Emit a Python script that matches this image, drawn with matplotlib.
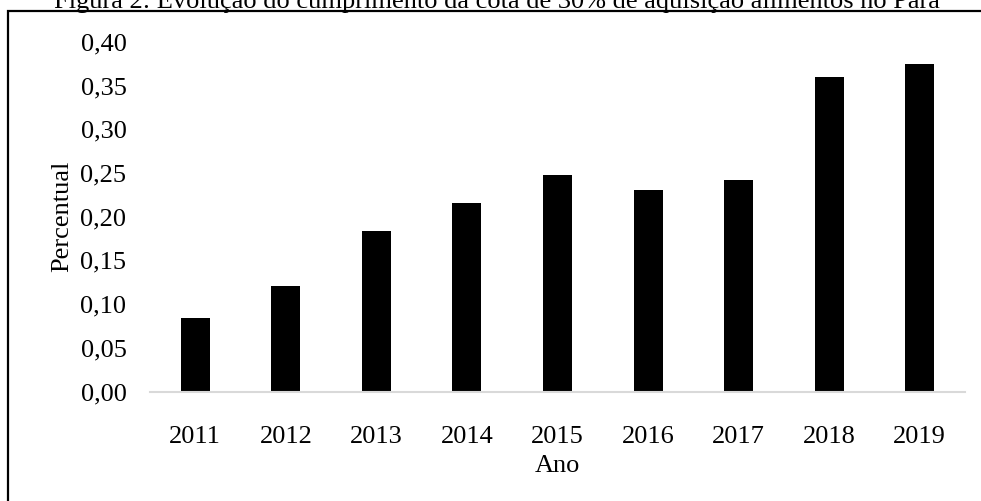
import numpy as np
import matplotlib.pyplot as plt
from matplotlib.patches import Rectangle

plt.rcParams['font.family'] = ['Liberation Serif', 'DejaVu Serif']

anos = ['2011', '2012', '2013', '2014', '2015', '2016', '2017', '2018', '2019']
percentual = [0.084, 0.121, 0.184, 0.216, 0.248, 0.231, 0.242, 0.360, 0.375]
yticks = [0.00, 0.05, 0.10, 0.15, 0.20, 0.25, 0.30, 0.35, 0.40]
titulo = 'Figura 2: Evolução do cumprimento da cota de 30% de aquisição alimentos no Pará'

fig = plt.figure(figsize=(9.81, 5.01), dpi=100)
ax = fig.add_axes([150/981, 1 - 391.5/501, 815/981, 349.5/501])

x = np.arange(len(anos))
ax.bar(x, percentual, width=0.32, color='black')
ax.set_xlim(-0.5, len(anos) - 0.5)
ax.set_ylim(0, 0.40)

ax.set_xticks(x)
ax.set_xticklabels(anos, fontsize=19)
ax.set_yticks(yticks)
ax.set_yticklabels([f'{v:.2f}'.replace('.', ',') for v in yticks], fontsize=19)
ax.tick_params(axis='both', length=0)
ax.tick_params(axis='x', pad=25)
ax.tick_params(axis='y', pad=17)

for s in ['top', 'right', 'left']:
    ax.spines[s].set_visible(False)
ax.spines['bottom'].set_color('#d9d9d9')
ax.spines['bottom'].set_linewidth(1.5)

ax.set_xlabel('Ano', fontsize=19, labelpad=5)
ax.set_ylabel('Percentual', fontsize=19, labelpad=5)

# moldura e titulo cortado no topo
fig.patches.append(Rectangle((8/981, -0.1), 1.2, 1 - 11/501 + 0.1, transform=fig.transFigure,
                             fill=False, edgecolor='black', linewidth=1.6))
fig.text(497/981, 1 - 8/501, titulo, fontsize=19, ha='center', va='baseline')

fig.savefig('out.png', dpi=100)
